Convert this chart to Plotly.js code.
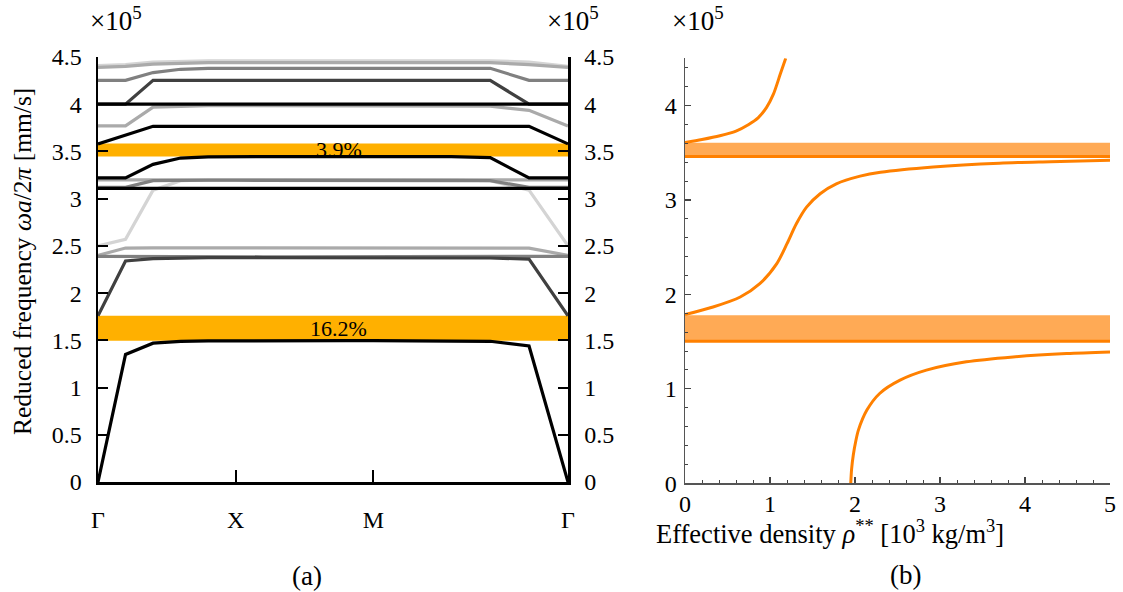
<!DOCTYPE html>
<html>
<head>
<meta charset="utf-8">
<script src="https://cdn.plot.ly/plotly-3.0.1.min.js"></script>
<style>html,body{margin:0;padding:0;background:#fff;}#chart{width:1123px;height:592px;}</style>
</head>
<body>
<div id="chart"></div>
<script>
// ---------- Panel (a): band structure ----------
const kPath = [0, 0.2, 0.4, 0.6, 0.8, 1, 1.2, 1.4, 1.6, 1.8, 2, 2.283, 2.566, 2.849, 3.131, 3.414];
const kTickVals = [0, 1, 2, 3.414];
const kTickText = ["Γ", "X", "M", "Γ"];

const band1  = [0, 1.35, 1.47, 1.488, 1.494, 1.496, 1.496, 1.496, 1.496, 1.496, 1.496, 1.496, 1.495, 1.49, 1.44, 0];
const band2  = [1.76, 2.34, 2.365, 2.372, 2.375, 2.376, 2.376, 2.376, 2.376, 2.376, 2.376, 2.376, 2.375, 2.372, 2.36, 1.76];
const band3  = [2.39, 2.388, 2.386, 2.385, 2.385, 2.385, 2.385, 2.385, 2.385, 2.385, 2.385, 2.385, 2.385, 2.386, 2.388, 2.39];
const band4  = [2.40, 2.477, 2.48, 2.48, 2.48, 2.48, 2.48, 2.48, 2.48, 2.48, 2.48, 2.48, 2.48, 2.48, 2.477, 2.40];
const band5  = [2.50, 2.57, 3.09, 3.19, 3.20, 3.20, 3.20, 3.20, 3.20, 3.20, 3.20, 3.20, 3.20, 3.19, 3.09, 2.50];
const band6  = [3.11, 3.11, 3.11, 3.11, 3.11, 3.11, 3.11, 3.11, 3.11, 3.11, 3.11, 3.11, 3.11, 3.11, 3.11, 3.11];
const band7  = [3.12, 3.12, 3.19, 3.195, 3.195, 3.195, 3.195, 3.195, 3.195, 3.195, 3.195, 3.195, 3.195, 3.19, 3.12, 3.12];
const band8  = [3.20, 3.20, 3.20, 3.20, 3.20, 3.20, 3.20, 3.20, 3.20, 3.20, 3.20, 3.20, 3.20, 3.20, 3.20, 3.20];
const band9  = [3.22, 3.22, 3.363, 3.43, 3.443, 3.446, 3.446, 3.446, 3.446, 3.446, 3.446, 3.446, 3.445, 3.434, 3.22, 3.22];
const band10 = [3.58, 3.67, 3.766, 3.766, 3.766, 3.766, 3.766, 3.766, 3.766, 3.766, 3.766, 3.766, 3.766, 3.766, 3.766, 3.58];
const band11 = [3.77, 3.77, 3.97, 3.98, 3.985, 3.985, 3.985, 3.985, 3.985, 3.985, 3.985, 3.985, 3.985, 3.98, 3.935, 3.77];
const band12 = [4.0, 4.0, 4.0, 4.0, 4.0, 4.0, 4.0, 4.0, 4.0, 4.0, 4.0, 4.0, 4.0, 4.0, 4.0, 4.0];
const band13 = [4.0, 4.0, 4.253, 4.253, 4.253, 4.253, 4.253, 4.253, 4.253, 4.253, 4.253, 4.253, 4.253, 4.253, 4.0, 4.0];
const band14 = [4.253, 4.253, 4.335, 4.37, 4.38, 4.38, 4.38, 4.38, 4.38, 4.38, 4.38, 4.38, 4.38, 4.38, 4.253, 4.253];
const band15 = [4.39, 4.40, 4.425, 4.435, 4.44, 4.44, 4.44, 4.44, 4.44, 4.44, 4.44, 4.44, 4.44, 4.44, 4.42, 4.39];
const band16 = [4.41, 4.42, 4.447, 4.455, 4.46, 4.46, 4.46, 4.46, 4.46, 4.46, 4.46, 4.46, 4.46, 4.46, 4.447, 4.40];

const bandList   = [band1, band2, band3, band4, band5, band6, band7, band8, band9, band10, band11, band12, band13, band14, band15, band16];
const bandColors = ["#000000", "#404040", "#808080", "#aaaaaa", "#d4d4d4", "#000000", "#808080", "#aaaaaa",
                    "#000000", "#000000", "#aaaaaa", "#000000", "#404040", "#808080", "#aaaaaa", "#d4d4d4"];

const gapLow    = [1.496, 3.446];
const gapHigh   = [1.76, 3.585];
const gapLabels = ["16.2%", "3.9%"];

// ---------- Panel (b): effective density ----------
const rhoTop = [0, 0.2, 0.41, 0.6, 0.75, 0.86, 0.96, 1.04, 1.12, 1.185];
const fTop   = [3.608, 3.64, 3.68, 3.73, 3.80, 3.87, 3.98, 4.12, 4.33, 4.5];
const rhoMid = [0, 0.33, 0.65, 0.88, 1.08, 1.2, 1.31, 1.43, 1.59, 1.78, 2.06, 2.3, 2.92, 3.7, 4.3, 5];
const fMid   = [1.786, 1.867, 1.973, 2.114, 2.326, 2.537, 2.748, 2.924, 3.066, 3.171, 3.252, 3.294, 3.35, 3.39, 3.405, 3.42];
const rhoLow = [1.95, 1.96, 1.98, 2.01, 2.04, 2.14, 2.29, 2.53, 2.84, 3.31, 3.86, 4.49, 5.0];
const fLow   = [0, 0.15, 0.3, 0.45, 0.563, 0.775, 0.951, 1.092, 1.198, 1.286, 1.338, 1.374, 1.391];

const densGapLow  = [1.504, 3.46];
const densGapHigh = [1.779, 3.605];
const rhoRange = [0, 5];

const FONT = "Liberation Serif";
const W = 1123, H = 592;
const px = v => v / W, py = v => 1 - v / H;

const traces = [];
const kMax = kPath[kPath.length - 1];

for (let i = 0; i < gapLow.length; i++) {
  traces.push({
    x: [0, kMax, kMax, 0], y: [gapLow[i], gapLow[i], gapHigh[i], gapHigh[i]],
    xaxis: "x", yaxis: "y", mode: "lines", fill: "toself", fillcolor: "#ffb000",
    line: {width: 0, color: "#ffb000"}, hoverinfo: "skip", showlegend: false
  });
}
const order = bandList.map((b, i) => i).sort((a, b) =>
  parseInt(bandColors[b].slice(1, 3), 16) - parseInt(bandColors[a].slice(1, 3), 16));
order.forEach(i => {
  traces.push({
    x: kPath, y: bandList[i], xaxis: "x", yaxis: "y", mode: "lines",
    line: {color: bandColors[i], width: 3.2}, showlegend: false
  });
});
traces.push({x: [0], y: [0], xaxis: "x", yaxis: "y2", mode: "markers", marker: {opacity: 0}, showlegend: false, hoverinfo: "skip"});

for (let i = 0; i < densGapLow.length; i++) {
  traces.push({
    x: [rhoRange[0], rhoRange[1], rhoRange[1], rhoRange[0]],
    y: [densGapLow[i], densGapLow[i], densGapHigh[i], densGapHigh[i]],
    xaxis: "x2", yaxis: "y3", mode: "lines", fill: "toself", fillcolor: "#ffaa55",
    line: {width: 0, color: "#ffaa55"}, hoverinfo: "skip", showlegend: false
  });
  traces.push({
    x: rhoRange, y: [densGapLow[i], densGapLow[i]],
    xaxis: "x2", yaxis: "y3", mode: "lines", line: {color: "#ff8000", width: 3}, showlegend: false
  });
}
[[rhoTop, fTop], [rhoMid, fMid], [rhoLow, fLow]].forEach(([xs, ys]) => {
  traces.push({
    x: xs, y: ys, xaxis: "x2", yaxis: "y3", mode: "lines",
    line: {color: "#ff8000", width: 3, shape: "spline", smoothing: 0.8}, showlegend: false
  });
});

const yDomA = [py(482), py(57)];
const yDomB = [py(483.3), py(58.3)];
const mkTickFont = () => ({family: FONT, size: 24, color: "#000"});

const yCommonA = () => ({
  range: [0, 4.5], dtick: 0.5, tick0: 0, showgrid: false, zeroline: false,
  showline: true, linecolor: "#000", linewidth: 2.5,
  ticks: "inside", ticklen: 10, tickwidth: 2, tickcolor: "#000",
  tickfont: mkTickFont(), domain: yDomA, fixedrange: true
});

const ann = (x, y, text, size, extra) => Object.assign({
  xref: "paper", yref: "paper", x: px(x), y: py(y), text: text, showarrow: false,
  font: {family: FONT, size: size, color: "#000"}, xanchor: "center", yanchor: "middle"
}, extra || {});

const layout = {
  width: W, height: H, margin: {l: 0, r: 0, t: 0, b: 0},
  paper_bgcolor: "#fff", plot_bgcolor: "rgba(0,0,0,0)",
  showlegend: false,
  font: {family: FONT, color: "#000"},
  xaxis: {
    domain: [px(98), px(568)], anchor: "y", range: [0, kMax],
    tickvals: kTickVals, ticktext: kTickText, tickfont: mkTickFont(),
    ticks: "inside", ticklen: 12, tickwidth: 2, tickcolor: "#000",
    showline: true, linecolor: "#000", linewidth: 2.5,
    showgrid: false, zeroline: false, ticklabelstandoff: 15
  },
  yaxis: Object.assign(yCommonA(), {anchor: "x", side: "left", ticklabelstandoff: 9}),
  yaxis2: Object.assign(yCommonA(), {anchor: "x", side: "right", overlaying: "y", ticklabelstandoff: 9}),
  xaxis2: {
    domain: [px(685), px(1110)], anchor: "y3", range: [0, 5], dtick: 1,
    ticks: "inside", ticklen: 6, tickwidth: 1.2, tickcolor: "#444",
    minor: {dtick: 0.2, ticks: "inside", ticklen: 3, tickcolor: "#444", tickwidth: 1},
    showline: true, linecolor: "#555", linewidth: 1.5, showgrid: false, zeroline: false,
    tickfont: mkTickFont(), ticklabelstandoff: -2
  },
  yaxis3: {
    domain: yDomB, anchor: "x2", range: [0, 4.5], dtick: 1, tick0: 0,
    ticks: "inside", ticklen: 6, tickwidth: 1.2, tickcolor: "#444",
    minor: {dtick: 0.2, ticks: "inside", ticklen: 3, tickcolor: "#444", tickwidth: 1},
    showline: true, linecolor: "#555", linewidth: 1.5, showgrid: false, zeroline: false,
    tickfont: mkTickFont(), ticklabelstandoff: 2
  },
  annotations: [
    ann(22, 262, "Reduced frequency <i>ωa</i>/2<i>π</i> [mm/s]", 25.5, {textangle: -90}),
    ann(116, 19, "×10<sup>5</sup>", 27),
    ann(573, 19, "×10<sup>5</sup>", 27),
    ann(698, 19, "×10<sup>5</sup>", 27),
    ann(830, 532, "Effective density <i>ρ</i><sup>**</sup> [10<sup>3</sup> kg/m<sup>3</sup>]", 26.5),
    ann(307, 576, "(a)", 27),
    ann(905, 575, "(b)", 27)
  ]
};
for (let i = 0; i < gapLow.length; i++) {
  layout.annotations.push({
    xref: "x", yref: "y", x: 1.75, y: (gapLow[i] + gapHigh[i]) / 2, text: gapLabels[i],
    showarrow: false, font: {family: FONT, size: 22, color: "#000"}, xanchor: "center", yanchor: "middle"
  });
}

Plotly.newPlot("chart", traces, layout, {staticPlot: true});
</script>
</body>
</html>
